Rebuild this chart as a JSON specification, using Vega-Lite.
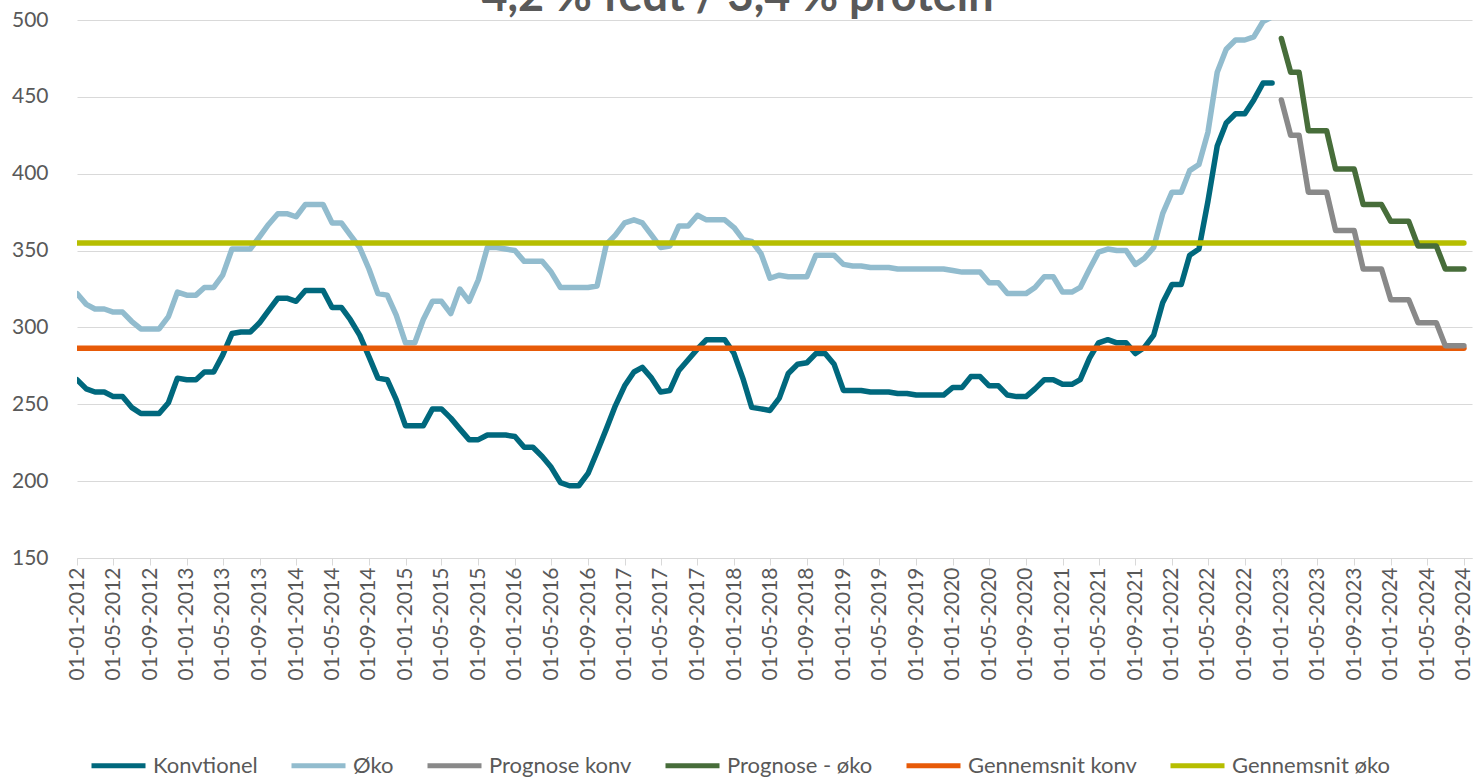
{
  "$schema": "https://vega.github.io/schema/vega-lite/v6.json",
  "width": 1395,
  "height": 538,
  "autosize": {"type": "none"},
  "padding": {"left": 77, "top": 20, "right": 9, "bottom": 220},
  "background": "white",
  "title": {"text": "4,2 % fedt / 3,4 % protein", "font": "Lato", "fontSize": 45, "fontWeight": "bold", "color": "#595959", "anchor": "middle", "frame": "group", "baseline": "alphabetic", "offset": -47, "dx": -37},
  "config": {"view": {"stroke": null}, "font": "Lato"},
  "data": {"values": [
    {"d":"2012-01-01","Konvtionel":266,"Øko":322,"Gennemsnit konv":286.5,"Gennemsnit øko":355},
    {"d":"2012-02-01","Konvtionel":260,"Øko":315},
    {"d":"2012-03-01","Konvtionel":258,"Øko":312},
    {"d":"2012-04-01","Konvtionel":258,"Øko":312},
    {"d":"2012-05-01","Konvtionel":255,"Øko":310},
    {"d":"2012-06-01","Konvtionel":255,"Øko":310},
    {"d":"2012-07-01","Konvtionel":248,"Øko":304},
    {"d":"2012-08-01","Konvtionel":244,"Øko":299},
    {"d":"2012-09-01","Konvtionel":244,"Øko":299},
    {"d":"2012-10-01","Konvtionel":244,"Øko":299},
    {"d":"2012-11-01","Konvtionel":251,"Øko":307},
    {"d":"2012-12-01","Konvtionel":267,"Øko":323},
    {"d":"2013-01-01","Konvtionel":266,"Øko":321},
    {"d":"2013-02-01","Konvtionel":266,"Øko":321},
    {"d":"2013-03-01","Konvtionel":271,"Øko":326},
    {"d":"2013-04-01","Konvtionel":271,"Øko":326},
    {"d":"2013-05-01","Konvtionel":282,"Øko":334},
    {"d":"2013-06-01","Konvtionel":296,"Øko":351},
    {"d":"2013-07-01","Konvtionel":297,"Øko":351},
    {"d":"2013-08-01","Konvtionel":297,"Øko":351},
    {"d":"2013-09-01","Konvtionel":303,"Øko":359},
    {"d":"2013-10-01","Konvtionel":311,"Øko":367},
    {"d":"2013-11-01","Konvtionel":319,"Øko":374},
    {"d":"2013-12-01","Konvtionel":319,"Øko":374},
    {"d":"2014-01-01","Konvtionel":317,"Øko":372},
    {"d":"2014-02-01","Konvtionel":324,"Øko":380},
    {"d":"2014-03-01","Konvtionel":324,"Øko":380},
    {"d":"2014-04-01","Konvtionel":324,"Øko":380},
    {"d":"2014-05-01","Konvtionel":313,"Øko":368},
    {"d":"2014-06-01","Konvtionel":313,"Øko":368},
    {"d":"2014-07-01","Konvtionel":305,"Øko":360},
    {"d":"2014-08-01","Konvtionel":295,"Øko":352},
    {"d":"2014-09-01","Konvtionel":281,"Øko":338},
    {"d":"2014-10-01","Konvtionel":267,"Øko":322},
    {"d":"2014-11-01","Konvtionel":266,"Øko":321},
    {"d":"2014-12-01","Konvtionel":253,"Øko":308},
    {"d":"2015-01-01","Konvtionel":236,"Øko":290},
    {"d":"2015-02-01","Konvtionel":236,"Øko":290},
    {"d":"2015-03-01","Konvtionel":236,"Øko":305},
    {"d":"2015-04-01","Konvtionel":247,"Øko":317},
    {"d":"2015-05-01","Konvtionel":247,"Øko":317},
    {"d":"2015-06-01","Konvtionel":241,"Øko":309},
    {"d":"2015-07-01","Konvtionel":234,"Øko":325},
    {"d":"2015-08-01","Konvtionel":227,"Øko":317},
    {"d":"2015-09-01","Konvtionel":227,"Øko":331},
    {"d":"2015-10-01","Konvtionel":230,"Øko":352},
    {"d":"2015-11-01","Konvtionel":230,"Øko":352},
    {"d":"2015-12-01","Konvtionel":230,"Øko":351},
    {"d":"2016-01-01","Konvtionel":229,"Øko":350},
    {"d":"2016-02-01","Konvtionel":222,"Øko":343},
    {"d":"2016-03-01","Konvtionel":222,"Øko":343},
    {"d":"2016-04-01","Konvtionel":216,"Øko":343},
    {"d":"2016-05-01","Konvtionel":209,"Øko":336},
    {"d":"2016-06-01","Konvtionel":199,"Øko":326},
    {"d":"2016-07-01","Konvtionel":197,"Øko":326},
    {"d":"2016-08-01","Konvtionel":197,"Øko":326},
    {"d":"2016-09-01","Konvtionel":205,"Øko":326},
    {"d":"2016-10-01","Konvtionel":219,"Øko":327},
    {"d":"2016-11-01","Konvtionel":234,"Øko":354},
    {"d":"2016-12-01","Konvtionel":249,"Øko":360},
    {"d":"2017-01-01","Konvtionel":262,"Øko":368},
    {"d":"2017-02-01","Konvtionel":271,"Øko":370},
    {"d":"2017-03-01","Konvtionel":274,"Øko":368},
    {"d":"2017-04-01","Konvtionel":267,"Øko":360},
    {"d":"2017-05-01","Konvtionel":258,"Øko":352},
    {"d":"2017-06-01","Konvtionel":259,"Øko":353},
    {"d":"2017-07-01","Konvtionel":272,"Øko":366},
    {"d":"2017-08-01","Konvtionel":279,"Øko":366},
    {"d":"2017-09-01","Konvtionel":286,"Øko":373},
    {"d":"2017-10-01","Konvtionel":292,"Øko":370},
    {"d":"2017-11-01","Konvtionel":292,"Øko":370},
    {"d":"2017-12-01","Konvtionel":292,"Øko":370},
    {"d":"2018-01-01","Konvtionel":283,"Øko":365},
    {"d":"2018-02-01","Konvtionel":266,"Øko":357},
    {"d":"2018-03-01","Konvtionel":248,"Øko":356},
    {"d":"2018-04-01","Konvtionel":247,"Øko":348},
    {"d":"2018-05-01","Konvtionel":246,"Øko":332},
    {"d":"2018-06-01","Konvtionel":254,"Øko":334},
    {"d":"2018-07-01","Konvtionel":270,"Øko":333},
    {"d":"2018-08-01","Konvtionel":276,"Øko":333},
    {"d":"2018-09-01","Konvtionel":277,"Øko":333},
    {"d":"2018-10-01","Konvtionel":283,"Øko":347},
    {"d":"2018-11-01","Konvtionel":283,"Øko":347},
    {"d":"2018-12-01","Konvtionel":276,"Øko":347},
    {"d":"2019-01-01","Konvtionel":259,"Øko":341},
    {"d":"2019-02-01","Konvtionel":259,"Øko":340},
    {"d":"2019-03-01","Konvtionel":259,"Øko":340},
    {"d":"2019-04-01","Konvtionel":258,"Øko":339},
    {"d":"2019-05-01","Konvtionel":258,"Øko":339},
    {"d":"2019-06-01","Konvtionel":258,"Øko":339},
    {"d":"2019-07-01","Konvtionel":257,"Øko":338},
    {"d":"2019-08-01","Konvtionel":257,"Øko":338},
    {"d":"2019-09-01","Konvtionel":256,"Øko":338},
    {"d":"2019-10-01","Konvtionel":256,"Øko":338},
    {"d":"2019-11-01","Konvtionel":256,"Øko":338},
    {"d":"2019-12-01","Konvtionel":256,"Øko":338},
    {"d":"2020-01-01","Konvtionel":261,"Øko":337},
    {"d":"2020-02-01","Konvtionel":261,"Øko":336},
    {"d":"2020-03-01","Konvtionel":268,"Øko":336},
    {"d":"2020-04-01","Konvtionel":268,"Øko":336},
    {"d":"2020-05-01","Konvtionel":262,"Øko":329},
    {"d":"2020-06-01","Konvtionel":262,"Øko":329},
    {"d":"2020-07-01","Konvtionel":256,"Øko":322},
    {"d":"2020-08-01","Konvtionel":255,"Øko":322},
    {"d":"2020-09-01","Konvtionel":255,"Øko":322},
    {"d":"2020-10-01","Konvtionel":260,"Øko":326},
    {"d":"2020-11-01","Konvtionel":266,"Øko":333},
    {"d":"2020-12-01","Konvtionel":266,"Øko":333},
    {"d":"2021-01-01","Konvtionel":263,"Øko":323},
    {"d":"2021-02-01","Konvtionel":263,"Øko":323},
    {"d":"2021-03-01","Konvtionel":266,"Øko":326},
    {"d":"2021-04-01","Konvtionel":280,"Øko":338},
    {"d":"2021-05-01","Konvtionel":290,"Øko":349},
    {"d":"2021-06-01","Konvtionel":292,"Øko":351},
    {"d":"2021-07-01","Konvtionel":290,"Øko":350},
    {"d":"2021-08-01","Konvtionel":290,"Øko":350},
    {"d":"2021-09-01","Konvtionel":283,"Øko":341},
    {"d":"2021-10-01","Konvtionel":287,"Øko":345},
    {"d":"2021-11-01","Konvtionel":295,"Øko":352},
    {"d":"2021-12-01","Konvtionel":316,"Øko":374},
    {"d":"2022-01-01","Konvtionel":328,"Øko":388},
    {"d":"2022-02-01","Konvtionel":328,"Øko":388},
    {"d":"2022-03-01","Konvtionel":347,"Øko":402},
    {"d":"2022-04-01","Konvtionel":351,"Øko":406},
    {"d":"2022-05-01","Konvtionel":382,"Øko":427},
    {"d":"2022-06-01","Konvtionel":418,"Øko":466},
    {"d":"2022-07-01","Konvtionel":433,"Øko":481},
    {"d":"2022-08-01","Konvtionel":439,"Øko":487},
    {"d":"2022-09-01","Konvtionel":439,"Øko":487},
    {"d":"2022-10-01","Konvtionel":448,"Øko":489},
    {"d":"2022-11-01","Konvtionel":459,"Øko":499},
    {"d":"2022-12-01","Konvtionel":459,"Øko":502},
    {"d":"2023-01-01","Prognose konv":448,"Prognose - øko":488},
    {"d":"2023-02-01","Prognose konv":425,"Prognose - øko":466},
    {"d":"2023-03-01","Prognose konv":425,"Prognose - øko":466},
    {"d":"2023-04-01","Prognose konv":388,"Prognose - øko":428},
    {"d":"2023-05-01","Prognose konv":388,"Prognose - øko":428},
    {"d":"2023-06-01","Prognose konv":388,"Prognose - øko":428},
    {"d":"2023-07-01","Prognose konv":363,"Prognose - øko":403},
    {"d":"2023-08-01","Prognose konv":363,"Prognose - øko":403},
    {"d":"2023-09-01","Prognose konv":363,"Prognose - øko":403},
    {"d":"2023-10-01","Prognose konv":338,"Prognose - øko":380},
    {"d":"2023-11-01","Prognose konv":338,"Prognose - øko":380},
    {"d":"2023-12-01","Prognose konv":338,"Prognose - øko":380},
    {"d":"2024-01-01","Prognose konv":318,"Prognose - øko":369},
    {"d":"2024-02-01","Prognose konv":318,"Prognose - øko":369},
    {"d":"2024-03-01","Prognose konv":318,"Prognose - øko":369},
    {"d":"2024-04-01","Prognose konv":303,"Prognose - øko":353},
    {"d":"2024-05-01","Prognose konv":303,"Prognose - øko":353},
    {"d":"2024-06-01","Prognose konv":303,"Prognose - øko":353},
    {"d":"2024-07-01","Prognose konv":288,"Prognose - øko":338},
    {"d":"2024-08-01","Prognose konv":288,"Prognose - øko":338},
    {"d":"2024-09-01","Prognose konv":288,"Prognose - øko":338,"Gennemsnit konv":286.5,"Gennemsnit øko":355}
  ]},
  "transform": [
    {"fold": ["Konvtionel", "Øko", "Prognose konv", "Prognose - øko", "Gennemsnit konv", "Gennemsnit øko"], "as": ["serie", "pris"]},
    {"filter": {"field": "pris", "valid": true}}
  ],
  "mark": {"type": "line", "strokeWidth": 5.5, "strokeCap": "round", "strokeJoin": "round", "clip": true},
  "encoding": {
    "x": {
      "field": "d", "type": "temporal",
      "scale": {"type": "utc", "nice": false, "domain": [{"year": 2012, "month": 1, "date": 1, "utc": true}, {"year": 2024, "month": 9, "date": 28, "utc": true}]},
      "axis": {
        "title": null, "format": "%d-%m-%Y", "labelAngle": -90, "labelFont": "Lato", "labelFontSize": 21, "labelColor": "#595959",
        "labelPadding": 2, "labelOverlap": false, "labelFlush": false, "grid": false,
        "domainColor": "#D9D9D9", "domainWidth": 1, "tickColor": "#D9D9D9", "tickSize": 7, "tickWidth": 1,
        "values": [
          {"year": 2012, "month": 1, "date": 1, "utc": true}, {"year": 2012, "month": 5, "date": 1, "utc": true}, {"year": 2012, "month": 9, "date": 1, "utc": true},
          {"year": 2013, "month": 1, "date": 1, "utc": true}, {"year": 2013, "month": 5, "date": 1, "utc": true}, {"year": 2013, "month": 9, "date": 1, "utc": true},
          {"year": 2014, "month": 1, "date": 1, "utc": true}, {"year": 2014, "month": 5, "date": 1, "utc": true}, {"year": 2014, "month": 9, "date": 1, "utc": true},
          {"year": 2015, "month": 1, "date": 1, "utc": true}, {"year": 2015, "month": 5, "date": 1, "utc": true}, {"year": 2015, "month": 9, "date": 1, "utc": true},
          {"year": 2016, "month": 1, "date": 1, "utc": true}, {"year": 2016, "month": 5, "date": 1, "utc": true}, {"year": 2016, "month": 9, "date": 1, "utc": true},
          {"year": 2017, "month": 1, "date": 1, "utc": true}, {"year": 2017, "month": 5, "date": 1, "utc": true}, {"year": 2017, "month": 9, "date": 1, "utc": true},
          {"year": 2018, "month": 1, "date": 1, "utc": true}, {"year": 2018, "month": 5, "date": 1, "utc": true}, {"year": 2018, "month": 9, "date": 1, "utc": true},
          {"year": 2019, "month": 1, "date": 1, "utc": true}, {"year": 2019, "month": 5, "date": 1, "utc": true}, {"year": 2019, "month": 9, "date": 1, "utc": true},
          {"year": 2020, "month": 1, "date": 1, "utc": true}, {"year": 2020, "month": 5, "date": 1, "utc": true}, {"year": 2020, "month": 9, "date": 1, "utc": true},
          {"year": 2021, "month": 1, "date": 1, "utc": true}, {"year": 2021, "month": 5, "date": 1, "utc": true}, {"year": 2021, "month": 9, "date": 1, "utc": true},
          {"year": 2022, "month": 1, "date": 1, "utc": true}, {"year": 2022, "month": 5, "date": 1, "utc": true}, {"year": 2022, "month": 9, "date": 1, "utc": true},
          {"year": 2023, "month": 1, "date": 1, "utc": true}, {"year": 2023, "month": 5, "date": 1, "utc": true}, {"year": 2023, "month": 9, "date": 1, "utc": true},
          {"year": 2024, "month": 1, "date": 1, "utc": true}, {"year": 2024, "month": 5, "date": 1, "utc": true}, {"year": 2024, "month": 9, "date": 1, "utc": true}
        ]
      }
    },
    "y": {
      "field": "pris", "type": "quantitative",
      "scale": {"domain": [150, 500], "nice": false, "zero": false},
      "axis": {
        "title": null, "values": [150, 200, 250, 300, 350, 400, 450, 500],
        "grid": true, "gridColor": "#D9D9D9", "gridWidth": 1, "domain": false, "ticks": false, "tickSize": 0,
        "labelPadding": 29, "labelFont": "Lato", "labelFontSize": 21, "labelColor": "#595959"
      }
    },
    "color": {
      "field": "serie", "type": "nominal",
      "scale": {
        "domain": ["Konvtionel", "Øko", "Prognose konv", "Prognose - øko", "Gennemsnit konv", "Gennemsnit øko"],
        "range": ["#00687D", "#92BCCE", "#898989", "#476D3A", "#E75A08", "#B6BE00"]
      },
      "legend": {
        "title": null, "orient": "none", "legendX": 12, "legendY": 716, "direction": "horizontal",
        "symbolType": "stroke", "symbolSize": 2916, "symbolStrokeWidth": 5,
        "labelFont": "Lato", "labelFontSize": 22, "labelColor": "#595959", "labelOffset": 5,
        "columnPadding": 23, "labelLimit": 400
      }
    }
  }
}
